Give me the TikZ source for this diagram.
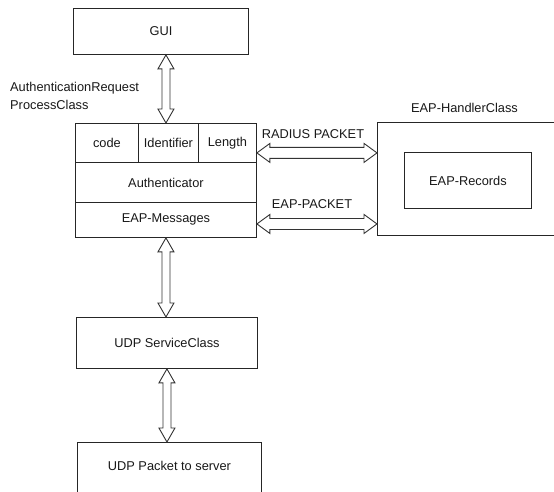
\documentclass[tikz,border=0pt]{standalone}
\usepackage{fontspec}
\setmainfont{Liberation Sans}
\usetikzlibrary{calc}
\tikzset{
  box/.style={draw=black!85, line width=0.9pt, inner sep=0pt, anchor=north west},
  lbl/.style={inner sep=0pt, text=black!90, font=\fontsize{12.8}{17.5}\selectfont},
  arr/.style={draw=black!80, line width=0.9pt, fill=white, line join=miter},
}
\newcommand\vdarr[2]{%
  \path[arr] let \p1=(#1), \p2=(#2) in
    (\x1,\y1) -- (\x1-8pt,\y1-14pt) -- (\x1-4pt,\y1-14pt) -- (\x1-4pt,\y2+14pt)
    -- (\x1-8pt,\y2+14pt) -- (\x1,\y2) -- (\x1+8pt,\y2+14pt) -- (\x1+4pt,\y2+14pt)
    -- (\x1+4pt,\y1-14pt) -- (\x1+8pt,\y1-14pt) -- cycle;}
\newcommand\hdarr[2]{%
  \path[arr] let \p1=(#1), \p2=(#2) in
    (\x1,\y1) -- (\x1+13pt,\y1+9.5pt) -- (\x1+13pt,\y1+5.5pt) -- (\x2-13pt,\y1+5.5pt)
    -- (\x2-13pt,\y1+9.5pt) -- (\x2,\y1) -- (\x2-13pt,\y1-9.5pt) -- (\x2-13pt,\y1-5.5pt)
    -- (\x1+13pt,\y1-5.5pt) -- (\x1+13pt,\y1-9.5pt) -- cycle;}
\begin{document}
\begin{tikzpicture}[x=1pt,y=-1pt]
\clip (0,0) rectangle (554,491);
\fill[white] (0,0) rectangle (554,491);
% GUI
\node[box, minimum width=175pt, minimum height=46pt] (gui) at (73,8) {};
\node[lbl] (guit) at (gui.center) {GUI};
% main box
\node[box, minimum width=181pt, minimum height=114pt] (main) at (75,123) {};
\node[box, minimum width=63pt, minimum height=39pt] (code) at (75,123) {};
\node[box, minimum width=60pt, minimum height=39pt] (ident) at (138,123) {};
\node[box, minimum width=58pt, minimum height=39pt] (length) at (198,123) {};
\node[box, minimum width=181pt, minimum height=40pt] (auth) at (75,162) {};
\node[box, minimum width=181pt, minimum height=35pt] (eapmsg) at (75,202) {};
\node[lbl] at (code.center) {code};
\node[lbl] at (ident.center) {Identifier};
\node[lbl] at (length.center) {Length};
\node[lbl] at (auth.center) {Authenticator};
\node[lbl] at ($(eapmsg.center)+(0,-1)$) {EAP-Messages};
\node[lbl, anchor=west, align=left] (arpc) at (10,96) {AuthenticationRequest\\ProcessClass};
% handler
\node[box, minimum width=230pt, minimum height=113pt] (handler) at (377,122) {};
\node[lbl] (handlert) at (464.5,108) {EAP-HandlerClass};
\node[box, minimum width=127pt, minimum height=56pt] (records) at (404,152) {};
\node[lbl] at (records.center) {EAP-Records};
% UDP
\node[box, minimum width=181pt, minimum height=51pt] (udp) at (76,317) {};
\node[lbl] at (udp.center) {UDP ServiceClass};
\node[box, minimum width=184pt, minimum height=50pt] (pkt) at (77,442) {};
\node[lbl] at ($(pkt.center)+(0,-2)$) {UDP Packet to server};
% arrows
\vdarr{main.north |- gui.south}{main.north}
\vdarr{main.south}{udp.north}
\vdarr{udp.south}{pkt.north}
\coordinate (r1) at ($(length.south east)+(0,-10)$);
\coordinate (r2) at ($(eapmsg.east)+(0,4)$);
\hdarr{r1}{handler.west |- r1}
\hdarr{r2}{handler.west |- r2}
\node[lbl] (radius) at (313,134.5) {RADIUS PACKET};
\node[lbl] (eappk) at (312,204) {EAP-PACKET};
\end{tikzpicture}
\end{document}
